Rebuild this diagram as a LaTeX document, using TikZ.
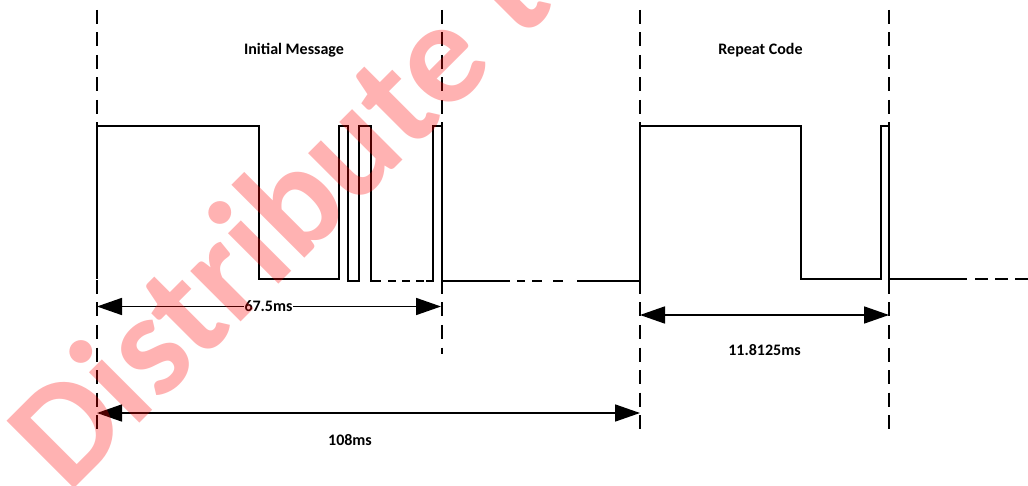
\documentclass[tikz,border=0pt]{standalone}
\usepackage{fontspec}
\setmainfont{Carlito}
\usetikzlibrary{arrows.meta}
\begin{document}
\begin{tikzpicture}[x=1pt,y=-1pt,
  sig/.style={line width=1.7pt, line join=miter},
  guide/.style={line width=1.7pt, dash pattern=on 14pt off 8.5pt},
  dim/.style={line width=1.7pt, {Triangle[length=25pt,width=17pt]}-{Triangle[length=25pt,width=17pt]}},
  lbl/.style={font=\bfseries\fontsize{16}{19}\selectfont, inner sep=0pt, anchor=base},
  wmark/.style={rotate=45, anchor=base west, inner sep=0pt, font=\bfseries\fontsize{147}{147}\selectfont, text=red, text opacity=0.3}
]
\useasboundingbox (0,0) rectangle (1028,486);
% guides
\coordinate (g1t) at (97,10);  \coordinate (g1b) at (97,434);
\coordinate (g2t) at (442,10); \coordinate (g2b) at (442,354);
\coordinate (g3t) at (640,10); \coordinate (g3b) at (640,434);
\coordinate (g4t) at (889,10); \coordinate (g4b) at (889,434);
\draw[guide] (g1t) -- (g1b);
\draw[guide] (g2t) -- (g2b);
\draw[guide] (g3t) -- (g3b);
\draw[guide] (g4t) -- (g4b);
% signal
\draw[sig] (97,279) |- (259,126) |- (339,279) |- (348,126) |- (359,281) |- (371,126) |- (381,281);
\draw[sig, dash pattern=on 8pt off 6pt] (388,281) -- (426,281);
\draw[sig] (426,281) -- (433,281) |- (442,126) |- (510,281);
\draw[sig] (517,281) -- (525,281);
\draw[sig] (532,281) -- (542,281);
\draw[sig] (553,281) -- (563,281);
\draw[sig] (577,281) -- (640,281) |- (801,126) |- (881,279) |- (889,126) |- (967,279);
\draw[sig] (975,279) -- (988,279);
\draw[sig] (995,279) -- (1008,279);
\draw[sig] (1015,279) -- (1028,279);
% dimensions
\coordinate (a1l) at (97,306.5);  \coordinate (a1r) at (441,306.5);
\coordinate (a2l) at (97,413);    \coordinate (a2r) at (640,413);
\coordinate (a3l) at (640,315);   \coordinate (a3r) at (889,315);
\draw[dim] (a1l) -- (a1r);
\draw[dim] (a2l) -- (a2r);
\draw[dim] (a3l) -- (a3r);
% labels
\node[lbl, fill=white, inner xsep=0.5pt] (t675) at (268.5,312) {67.5ms};
\node[lbl] (t108) at (350,445) {108ms};
\node[lbl] (t118) at (764.5,355) {11.8125ms};
\node[lbl] (tim) at (294,55) {Initial Message};
\node[lbl] (trc) at (760.5,55) {Repeat Code};
% watermark
\node[wmark] (wm) at (68,495) {Distribute to};
\end{tikzpicture}
\end{document}
